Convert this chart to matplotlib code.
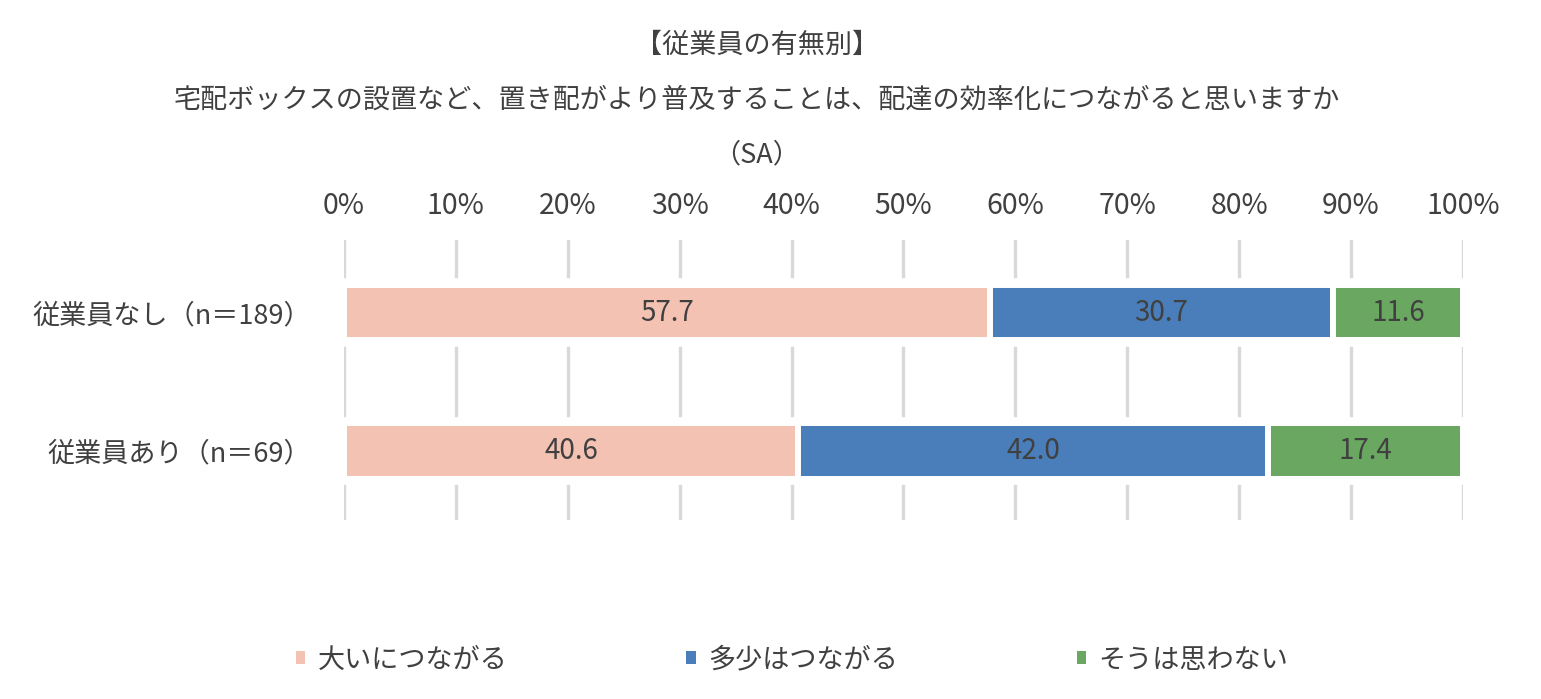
import matplotlib
matplotlib.use("Agg")
import matplotlib.pyplot as plt
import numpy as np
from matplotlib.patches import Patch

plt.rcParams["font.family"] = ["Noto Sans CJK JP", "DejaVu Sans"]

# data
groups = ["従業員なし（n＝189）", "従業員あり（n＝69）"]
series = ["大いにつながる", "多少はつながる", "そうは思わない"]
values = [
    [57.7, 40.6],   # 大いにつながる
    [30.7, 42.0],   # 多少はつながる
    [11.6, 17.4],   # そうは思わない
]
colors = ["#F4C2B3", "#4A7EBB", "#6AA862"]
ticks = [0, 10, 20, 30, 40, 50, 60, 70, 80, 90, 100]

title_lines = [
    "【従業員の有無別】",
    "宅配ボックスの設置など、置き配がより普及することは、配達の効率化につながると思いますか",
    "（SA）",
]

TEXT = "#404040"
FS = 19.5

fig = plt.figure(figsize=(15.41, 6.99), dpi=100)
ax = fig.add_axes([0.2232, 0.2561, 0.7262, 0.4006])

# rows from top to bottom
ypos = np.arange(len(groups))[::-1]
bar_h = 0.40

# white backing so gridlines stop short of the bars
totals = np.sum(values, axis=0)
ax.barh(ypos, totals, height=bar_h + 0.05, color="white", edgecolor="white",
        linewidth=4, zorder=2)

left = np.zeros(len(groups))
for name, vals, col in zip(series, values, colors):
    vals = np.array(vals)
    ax.barh(ypos, vals, left=left, height=bar_h, color=col,
            edgecolor="white", linewidth=4.3, zorder=3, label=name)
    for y, l, v in zip(ypos, left, vals):
        ax.text(l + v / 2, y, f"{v:.1f}", ha="center", va="center",
                fontsize=20, color=TEXT, zorder=4)
    left += vals

ax.set_xlim(0, 100)
ax.set_ylim(-0.5, 1.525)
ax.set_xticks(ticks)
ax.set_xticklabels([f"{t}%" for t in ticks])
ax.xaxis.tick_top()
ax.tick_params(axis="x", length=0, pad=14, labelsize=20.5, labelcolor=TEXT)
ax.set_yticks(ypos)
ax.set_yticklabels(groups)
ax.tick_params(axis="y", length=0, pad=24, labelsize=FS, labelcolor=TEXT)

ax.grid(axis="x", color="#D9D9D9", linewidth=2.4, zorder=1)
ax.set_axisbelow(True)
for s in ax.spines.values():
    s.set_visible(False)

for y, line in zip([45, 100, 155], title_lines):
    fig.text(0.491, 1 - y / 699, line, ha="center", va="center",
             fontsize=FS, color=TEXT)

handles = [Patch(facecolor=c, edgecolor="none") for c in colors]
fig.legend(handles, series, loc="center", bbox_to_anchor=(0.514, 1 - 660 / 699),
           ncol=3, frameon=False, fontsize=FS, labelcolor=TEXT,
           handlelength=0.35, handleheight=0.35, handletextpad=0.45,
           columnspacing=6.6)

fig.savefig("out.png", dpi=100, facecolor="white")
